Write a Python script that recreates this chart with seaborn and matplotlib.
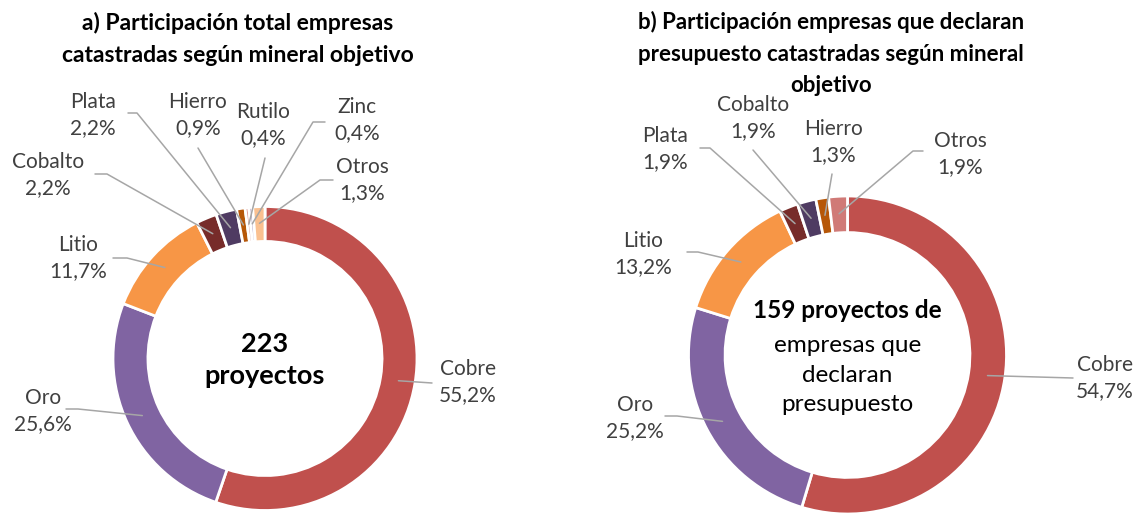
import numpy as np
import seaborn as sns
import matplotlib.pyplot as plt

# chart a: all companies (223 projects)
minerals_a = ['Cobre', 'Oro', 'Litio', 'Cobalto', 'Plata', 'Hierro', 'Rutilo', 'Zinc', 'Otros']
share_a = [55.2, 25.6, 11.7, 2.2, 2.2, 0.9, 0.4, 0.4, 1.3]
colors_a = ['#C0504D', '#8064A2', '#F79646', '#772C2A', '#4F3B62', '#B65708', '#D99694', '#B3A2C7', '#FAC090']

# chart b: companies that declare a budget (159 projects)
minerals_b = ['Cobre', 'Oro', 'Litio', 'Plata', 'Cobalto', 'Hierro', 'Otros']
share_b = [54.7, 25.2, 13.2, 1.9, 1.9, 1.3, 1.9]
colors_b = ['#C0504D', '#8064A2', '#F79646', '#772C2A', '#4F3B62', '#B65708', '#D07A77']

title_a = 'a) Participación total empresas\ncatastradas según mineral objetivo'
title_b = 'b) Participación empresas que declaran\npresupuesto catastradas según mineral\nobjetivo'

# layout, in pixels from the top-left corner of the picture
W, H = 1144, 517
center_a, radius_a = (265, 358.5), 152
center_b, radius_b = (847.5, 355), 159
# label text centre, leader anchor at the label, leader elbow
text_a = [(468, 382), (43, 411), (78, 258), (48, 175), (93, 115), (198, 115), (263, 125), (357, 120), (362, 180)]
anchor_a = [(432, 383), (66, 409), (113, 258), (95, 174), (128, 113), (198, 148), (265, 158), (325, 122), (333, 180)]
elbow_a = [(432, 383), (78, 409), (127, 258), (107, 174), (137, 113), (198, 148), (265, 158), (313, 122), (320, 180)]
text_b = [(1105, 378), (635, 418), (643, 254), (665, 149), (753, 118), (833, 142), (960, 154)]
anchor_b = [(1073, 378), (665, 416), (687, 252), (700, 148), (753, 150), (832, 174), (923, 151)]
elbow_b = [(1073, 378), (677, 416), (698, 252), (710, 148), (753, 150), (832, 174), (913, 151)]

sns.set_theme(style='white')
plt.rcParams['font.family'] = ['Lato', 'DejaVu Sans']

fig = plt.figure(figsize=(W / 100, H / 100), dpi=100)
ax = fig.add_axes([0, 0, 1, 1])


def up(p):
    return (p[0], H - p[1])


def donut(names, values, colors, center, radius, texts, anchors, elbows):
    cx, cy = up(center)
    wedges, _ = ax.pie(values, colors=colors, center=(cx, cy), radius=radius,
                       startangle=90, counterclock=False,
                       wedgeprops=dict(width=radius * 0.23, edgecolor='white', linewidth=2))
    for w, name, val, t, a, e in zip(wedges, names, values, texts, anchors, elbows):
        mid = np.deg2rad((w.theta1 + w.theta2) / 2)
        r = radius * 0.89
        px, py = cx + r * np.cos(mid), cy + r * np.sin(mid)
        ax_, ay_ = up(a)
        ex, ey = up(e)
        ax.plot([ax_, ex, px], [ay_, ey, py], color='#A6A6A6', lw=1.1, zorder=3)
        lab = f'{name}\n{val:.1f}%'.replace('.', ',')
        ax.text(*up(t), lab, ha='center', va='center', fontsize=15,
                color='#404040', linespacing=1.38)


donut(minerals_a, share_a, colors_a, center_a, radius_a, text_a, anchor_a, elbow_a)
donut(minerals_b, share_b, colors_b, center_b, radius_b, text_b, anchor_b, elbow_b)

ax.set_xlim(0, W)
ax.set_ylim(0, H)
ax.set_aspect('equal')
ax.axis('off')

ax.text(238, H - 39, title_a, ha='center', va='center', fontsize=16.5,
        fontweight='bold', linespacing=1.6, color='black')
ax.text(831, H - 53.5, title_b, ha='center', va='center', fontsize=16,
        fontweight='bold', linespacing=1.62, color='black')

ax.text(265, H - 360, '223\nproyectos', ha='center', va='center', fontsize=19.5,
        fontweight='bold', linespacing=1.35, color='black')
ax.text(847.5, H - 310, '159 proyectos de', ha='center', va='center', fontsize=17.5,
        fontweight='bold', color='black')
ax.text(847.5, H - 375, 'empresas que\ndeclaran\npresupuesto', ha='center', va='center',
        fontsize=17.5, linespacing=1.5, color='black')

plt.savefig('out.png', dpi=100)
